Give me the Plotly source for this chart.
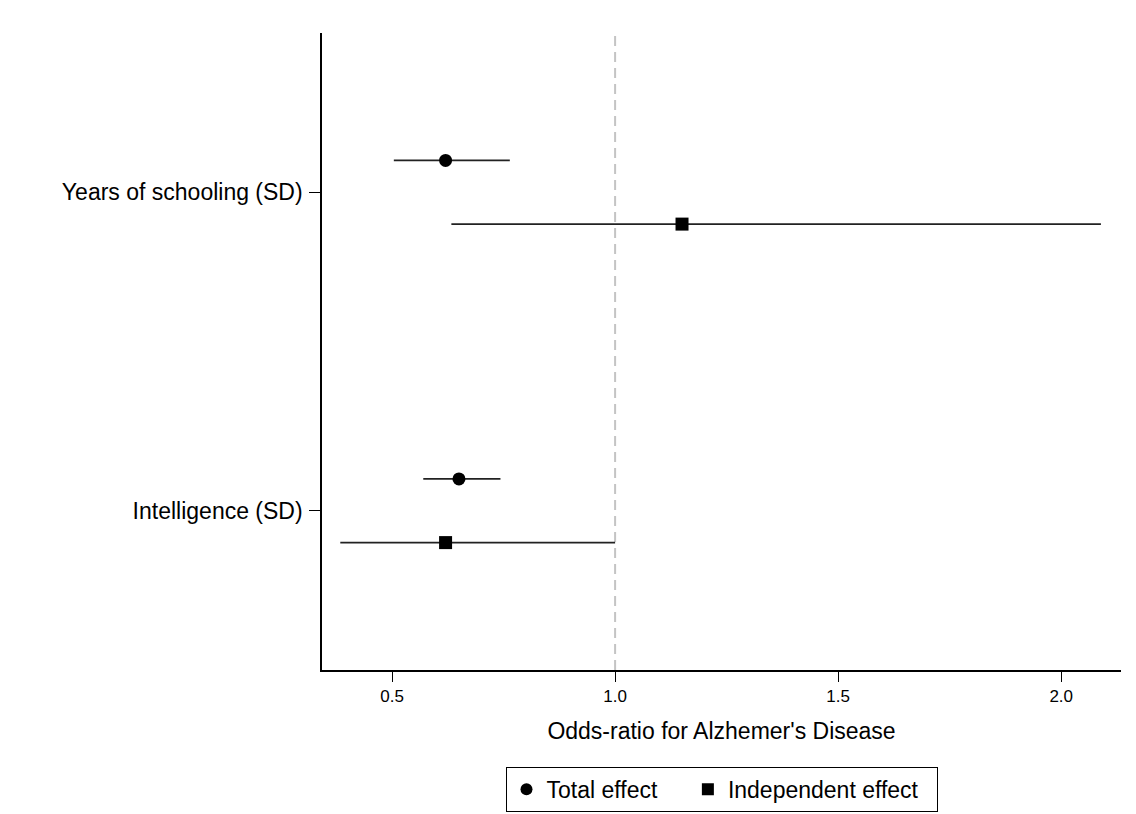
import plotly.graph_objects as go

# Data
exposures = ["Intelligence (SD)", "Years of schooling (SD)"]
exposure_pos = [1, 2]
total_or = [0.650, 0.620]
total_lo = [0.570, 0.504]
total_hi = [0.743, 0.764]
indep_or = [0.620, 1.150]
indep_lo = [0.384, 0.633]
indep_hi = [1.000, 2.089]
x_ticks = [0.5, 1.0, 1.5, 2.0]
x_tick_labels = ["0.5", "1.0", "1.5", "2.0"]
series_names = ["Total effect", "Independent effect"]
null_value = 1.0
offset = 0.1

font_family = "Liberation Sans, Arial, sans-serif"
NBSP = "\u00a0"

fig = go.Figure()

fig.add_shape(type="line", x0=null_value, x1=null_value, y0=0, y1=1,
              xref="x", yref="paper",
              line=dict(color="#c4c4c4", width=2, dash="10px,6px"), layer="below")

fig.add_trace(go.Scatter(
    x=total_or, y=[p + offset for p in exposure_pos], mode="markers",
    name=series_names[0] + NBSP * 4,
    marker=dict(symbol="circle", size=13, color="black"),
    error_x=dict(type="data", symmetric=False,
                 array=[h - p for h, p in zip(total_hi, total_or)],
                 arrayminus=[p - l for p, l in zip(total_or, total_lo)],
                 width=0, thickness=1.8, color="#222222"),
))
fig.add_trace(go.Scatter(
    x=indep_or, y=[p - offset for p in exposure_pos], mode="markers",
    name=series_names[1] + NBSP * 2,
    marker=dict(symbol="square", size=13, color="black"),
    error_x=dict(type="data", symmetric=False,
                 array=[h - p for h, p in zip(indep_hi, indep_or)],
                 arrayminus=[p - l for p, l in zip(indep_or, indep_lo)],
                 width=0, thickness=1.8, color="#222222"),
))

fig.update_layout(
    width=1128, height=806,
    margin=dict(l=314, r=15, t=25, b=144, autoexpand=False),
    paper_bgcolor="white", plot_bgcolor="white",
    font=dict(family=font_family, color="black", size=23),
    showlegend=True,
    legend=dict(orientation="h", x=0.5, xanchor="center", y=-0.152, yanchor="top",
                bordercolor="black", borderwidth=1, font=dict(size=23),
                itemsizing="constant"),
    xaxis=dict(range=[0.343, 2.134], tickvals=x_ticks, ticktext=x_tick_labels,
               showgrid=False, zeroline=False, showline=True, linecolor="black",
               linewidth=1.5, ticks="outside", ticklen=10, tickcolor="black",
               tickfont=dict(size=17), automargin=False,
               title=dict(text="Odds-ratio for Alzhemer's Disease", font=dict(size=23), standoff=18)),
    yaxis=dict(range=[0.5, 2.5], tickvals=exposure_pos, ticktext=exposures,
               showgrid=False, zeroline=False, showline=True, linecolor="black",
               linewidth=1.5, ticks="outside", ticklen=11, tickcolor="black",
               tickfont=dict(size=23), ticklabelstandoff=2, automargin=False),
)

fig.write_html("out.html")
